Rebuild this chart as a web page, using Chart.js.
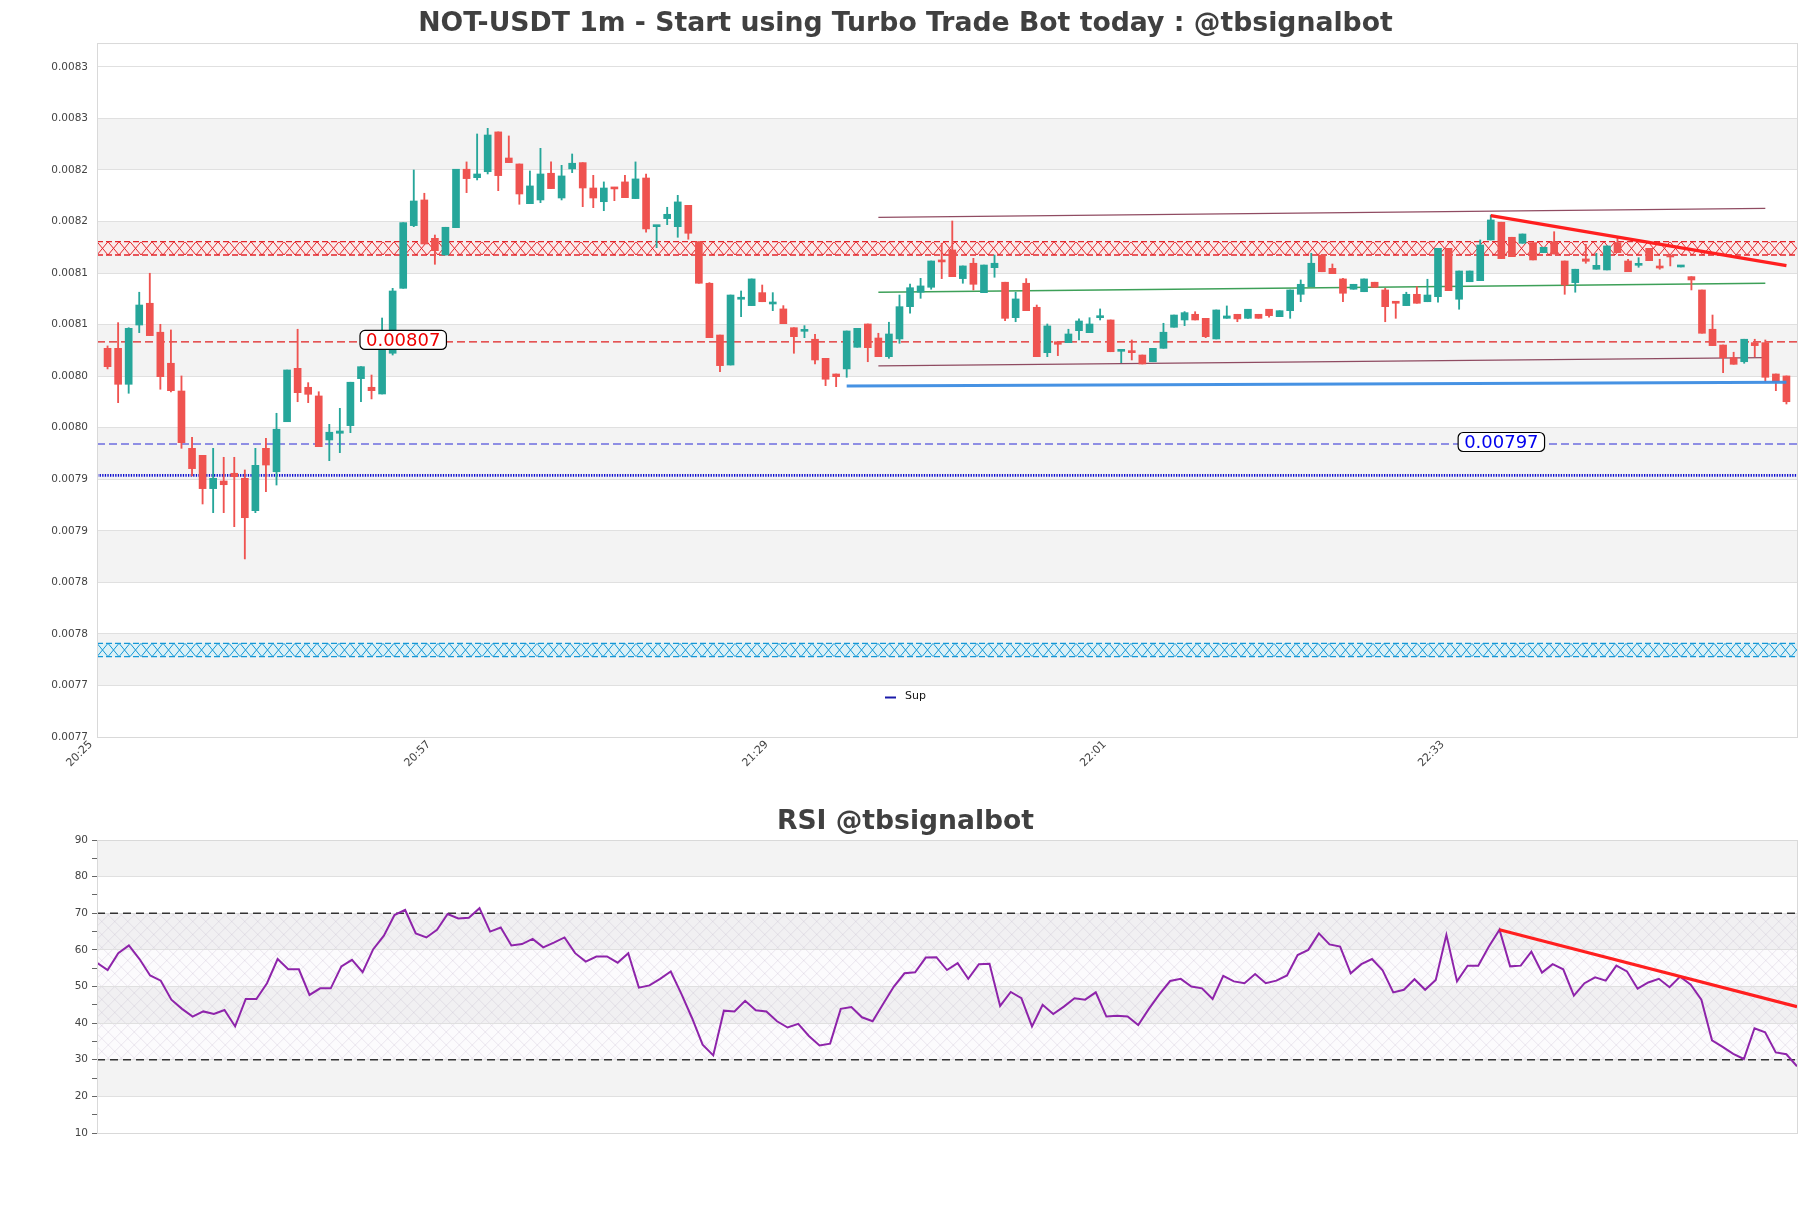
<!DOCTYPE html>
<html><head><meta charset="utf-8">
<script src="https://cdn.jsdelivr.net/npm/chart.js@4.4.1/dist/chart.umd.min.js"></script>
<style>
html,body{margin:0;padding:0;background:#fff;}
#wrap{position:relative;width:1811px;height:1208px;background:#fff;}
#c1{position:absolute;left:0;top:0;}
#c2{position:absolute;left:0;top:780px;}
</style></head><body>
<div id="wrap"><canvas id="c1" width="1811" height="780"></canvas><canvas id="c2" width="1811" height="428"></canvas></div>
<script>
const mainTitle = 'NOT-USDT 1m - Start using Turbo Trade Bot today : @tbsignalbot';
const rsiTitle = 'RSI @tbsignalbot';

const openPrices = [
0.0080645,0.0080645,0.0080296,0.0080871,0.0081082,0.0080801,0.0080500,0.0080231,0.0079675,0.0079607,
0.0079284,0.0079358,0.0079433,0.0079384,0.0079070,0.0079675,0.0079448,0.0079933,0.0080451,0.0080267,
0.0080183,0.0079756,0.0079821,0.0079895,0.0080351,0.0080267,0.0080202,0.0080597,0.0081227,0.0081835,
0.0082084,0.0081712,0.0081550,0.0081815,0.0082382,0.0082300,0.0082358,0.0082744,0.0082491,0.0082433,
0.0082048,0.0082084,0.0082343,0.0082103,0.0082385,0.0082446,0.0082200,0.0082067,0.0082207,0.0082259,
0.0082097,0.0082297,0.0081825,0.0081903,0.0081825,0.0082032,0.0081679,0.0081276,0.0080774,0.0080483,
0.0081121,0.0081059,0.0081185,0.0081075,0.0081027,0.0080845,0.0080810,0.0080733,0.0080548,0.0080396,
0.0080445,0.0080655,0.0080881,0.0080745,0.0080564,0.0080736,0.0081049,0.0081189,0.0081237,0.0081495,
0.0081599,0.0081321,0.0081470,0.0081185,0.0081427,0.0081286,0.0080942,0.0081276,0.0081043,0.0080603,
0.0080709,0.0080700,0.0080816,0.0080797,0.0080942,0.0080920,0.0080616,0.0080616,0.0080580,0.0080515,
0.0080645,0.0080849,0.0080920,0.0080975,0.0080936,0.0080736,0.0080936,0.0080975,0.0080936,0.0080975,
0.0081024,0.0080952,0.0081010,0.0081169,0.0081243,0.0081550,0.0081421,0.0081318,0.0081218,0.0081194,
0.0081286,0.0081211,0.0081097,0.0081059,0.0081169,0.0081097,0.0081146,0.0081615,0.0081121,0.0081291,
0.0081301,0.0081696,0.0081868,0.0081722,0.0081664,0.0081670,0.0081573,0.0081679,0.0081492,0.0081282,
0.0081512,0.0081412,0.0081405,0.0081670,0.0081492,0.0081450,0.0081615,0.0081431,0.0081538,0.0081434,
0.0081340,0.0081211,0.0080830,0.0080677,0.0080554,0.0080515,0.0080700,0.0080700,0.0080396,0.0080377];
const highPrices = [
0.0080668,0.0080894,0.0080845,0.0081189,0.0081373,0.0080878,0.0080823,0.0080377,0.0079782,0.0079607,
0.0079675,0.0079588,0.0079588,0.0079465,0.0079675,0.0079772,0.0080015,0.0080435,0.0080830,0.0080312,
0.0080224,0.0079908,0.0080063,0.0080316,0.0080467,0.0080386,0.0080939,0.0081227,0.0081864,0.0082375,
0.0082149,0.0081744,0.0081819,0.0082382,0.0082453,0.0082724,0.0082779,0.0082744,0.0082705,0.0082433,
0.0082365,0.0082585,0.0082453,0.0082420,0.0082530,0.0082446,0.0082323,0.0082259,0.0082207,0.0082323,
0.0082453,0.0082336,0.0081835,0.0082013,0.0082129,0.0082032,0.0081679,0.0081282,0.0080774,0.0081162,
0.0081201,0.0081318,0.0081259,0.0081185,0.0081059,0.0080845,0.0080865,0.0080781,0.0080548,0.0080396,
0.0080813,0.0080839,0.0080881,0.0080791,0.0080898,0.0081162,0.0081269,0.0081324,0.0081492,0.0081664,
0.0081880,0.0081444,0.0081518,0.0081453,0.0081550,0.0081286,0.0081189,0.0081321,0.0081065,0.0080881,
0.0080709,0.0080830,0.0080930,0.0080942,0.0081027,0.0080920,0.0080629,0.0080726,0.0080580,0.0080645,
0.0080888,0.0080968,0.0081001,0.0081000,0.0080936,0.0081017,0.0081056,0.0080975,0.0081024,0.0080975,
0.0081024,0.0081010,0.0081211,0.0081308,0.0081567,0.0081550,0.0081463,0.0081324,0.0081266,0.0081318,
0.0081286,0.0081227,0.0081097,0.0081189,0.0081243,0.0081315,0.0081615,0.0081615,0.0081395,0.0081395,
0.0081696,0.0081938,0.0081868,0.0081722,0.0081754,0.0081670,0.0081625,0.0081776,0.0081492,0.0081412,
0.0081654,0.0081567,0.0081638,0.0081728,0.0081509,0.0081524,0.0081615,0.0081509,0.0081538,0.0081441,
0.0081340,0.0081211,0.0080968,0.0080677,0.0080607,0.0080733,0.0080733,0.0080726,0.0080396,0.0080377];
const lowPrices = [
0.0080445,0.0080118,0.0080209,0.0080797,0.0080768,0.0080248,0.0080222,0.0079675,0.0079407,0.0079135,
0.0079051,0.0079051,0.0078915,0.0078602,0.0079051,0.0079254,0.0079319,0.0079933,0.0080127,0.0080118,
0.0079691,0.0079555,0.0079633,0.0079827,0.0080127,0.0080154,0.0080202,0.0080580,0.0081227,0.0081825,
0.0081657,0.0081460,0.0081550,0.0081815,0.0082155,0.0082278,0.0082336,0.0082174,0.0082446,0.0082042,
0.0082048,0.0082058,0.0082194,0.0082084,0.0082349,0.0082019,0.0082009,0.0081980,0.0082077,0.0082106,
0.0082097,0.0081771,0.0081621,0.0081844,0.0081722,0.0081703,0.0081276,0.0080748,0.0080418,0.0080483,
0.0080952,0.0081059,0.0081097,0.0081010,0.0080884,0.0080597,0.0080748,0.0080493,0.0080283,0.0080273,
0.0080364,0.0080655,0.0080515,0.0080564,0.0080548,0.0080694,0.0080985,0.0081130,0.0081218,0.0081321,
0.0081340,0.0081276,0.0081211,0.0081185,0.0081334,0.0080913,0.0080903,0.0081010,0.0080564,0.0080564,
0.0080574,0.0080700,0.0080726,0.0080797,0.0080920,0.0080612,0.0080506,0.0080532,0.0080493,0.0080515,
0.0080645,0.0080849,0.0080865,0.0080920,0.0080748,0.0080736,0.0080936,0.0080903,0.0080936,0.0080936,
0.0080946,0.0080952,0.0080936,0.0081097,0.0081243,0.0081388,0.0081369,0.0081097,0.0081218,0.0081194,
0.0081237,0.0080903,0.0080936,0.0081059,0.0081082,0.0081097,0.0081092,0.0081204,0.0081024,0.0081291,
0.0081301,0.0081696,0.0081515,0.0081534,0.0081664,0.0081502,0.0081573,0.0081560,0.0081169,0.0081189,
0.0081470,0.0081412,0.0081405,0.0081573,0.0081388,0.0081431,0.0081495,0.0081412,0.0081444,0.0081434,
0.0081211,0.0080791,0.0080671,0.0080409,0.0080490,0.0080500,0.0080564,0.0080321,0.0080234,0.0080105];
const closePrices = [
0.0080467,0.0080296,0.0080839,0.0081065,0.0080768,0.0080370,0.0080234,0.0079730,0.0079478,0.0079284,
0.0079384,0.0079322,0.0079400,0.0079002,0.0079510,0.0079513,0.0079860,0.0080435,0.0080215,0.0080199,
0.0079691,0.0079831,0.0079843,0.0080316,0.0080467,0.0080234,0.0080645,0.0081201,0.0081864,0.0082074,
0.0081657,0.0081592,0.0081819,0.0082382,0.0082291,0.0082336,0.0082714,0.0082320,0.0082446,0.0082142,
0.0082220,0.0082336,0.0082194,0.0082317,0.0082440,0.0082200,0.0082103,0.0082200,0.0082191,0.0082106,
0.0082288,0.0081803,0.0081835,0.0081945,0.0082065,0.0081761,0.0081276,0.0080748,0.0080477,0.0081162,
0.0081124,0.0081318,0.0081097,0.0081082,0.0080884,0.0080758,0.0080816,0.0080532,0.0080345,0.0080370,
0.0080813,0.0080839,0.0080651,0.0080564,0.0080784,0.0081049,0.0081233,0.0081250,0.0081492,0.0081483,
0.0081340,0.0081444,0.0081266,0.0081453,0.0081470,0.0080936,0.0081124,0.0081010,0.0080564,0.0080862,
0.0080684,0.0080784,0.0080910,0.0080881,0.0080946,0.0080612,0.0080619,0.0080603,0.0080493,0.0080645,
0.0080801,0.0080968,0.0080991,0.0080920,0.0080758,0.0081017,0.0080959,0.0080930,0.0081024,0.0080936,
0.0080962,0.0081010,0.0081211,0.0081266,0.0081470,0.0081388,0.0081369,0.0081179,0.0081266,0.0081318,
0.0081237,0.0081049,0.0081082,0.0081169,0.0081082,0.0081162,0.0081615,0.0081204,0.0081395,0.0081395,
0.0081647,0.0081890,0.0081515,0.0081534,0.0081754,0.0081502,0.0081625,0.0081560,0.0081259,0.0081412,
0.0081489,0.0081450,0.0081638,0.0081573,0.0081388,0.0081456,0.0081495,0.0081424,0.0081531,0.0081441,
0.0081308,0.0080791,0.0080671,0.0080554,0.0080490,0.0080733,0.0080671,0.0080364,0.0080321,0.0080127];

const timeTickPos = [-1, 31, 63, 95, 127];
const timeTickLabels = ['20:25', '20:57', '21:29', '22:01', '22:33'];
const xRange = [-1, 160];
const priceRange = [0.0076875, 0.0083606];
const priceTicks = [0.0076875,0.0077375,0.0077875,0.0078375,0.0078875,0.0079375,0.0079875,0.0080375,0.0080875,0.0081375,0.0081875,0.0082375,0.0082875,0.0083375];
const priceTickLabels = ['0.0077','0.0077','0.0078','0.0078','0.0079','0.0079','0.0080','0.0080','0.0081','0.0081','0.0082','0.0082','0.0083','0.0083'];

const resistanceZone = [0.0081550, 0.0081679];
const supportZone = [0.0077654, 0.0077784];
const levelValues = [0.0080707, 0.0079717];
const levelLabelText = ['0.00807', '0.00797'];
const levelLabelPos = [28, 132];
const supValue = 0.0079413;
const supLabel = 'Sup';
const channelUpper = [{x: 73, y: 0.0081916}, {x: 157, y: 0.0082003}];
const channelMid = [{x: 73, y: 0.0081189}, {x: 157, y: 0.0081276}];
const channelLower = [{x: 73, y: 0.0080474}, {x: 157, y: 0.0080554}];
const supportTrend = [{x: 70, y: 0.0080280}, {x: 159, y: 0.0080316}];
const resistTrend = [{x: 131, y: 0.0081932}, {x: 159, y: 0.0081447}];

const rsiValues = [
56.5,54.5,59.1,61.2,57.5,53,51.6,46.4,43.9,41.8,43.2,42.5,43.6,39.1,46.6,46.6,50.9,57.5,54.7,54.7,
47.7,49.5,49.5,55.5,57.3,53.9,60.2,63.9,69.5,70.9,64.5,63.4,65.5,69.8,68.6,68.8,71.4,65,66.1,61.2,
61.6,63,60.7,62,63.4,59.1,56.8,58.2,
58.2,56.5,59.1,49.7,50.3,52.1,54.1,48,41.4,34.1,31.2,43.4,43.2,46.1,43.5,43.2,40.5,38.8,39.8,36.5,
33.9,34.4,43.9,44.4,41.6,40.5,45.3,50,53.6,53.9,57.9,58,54.5,56.4,52.1,56.1,56.2,44.7,48.5,46.8,
39.1,45,42.5,44.5,46.8,46.4,48.4,41.8,42,41.8,39.5,43.9,47.9,51.5,52.1,50,
49.5,46.6,52.9,51.4,50.9,53.4,50.9,51.6,53,58.6,60,64.5,61.5,60.9,53.6,56.1,57.5,54.4,48.4,49.1,
52,49.1,51.8,64.1,51.4,55.7,55.7,60.9,65.5,55.5,55.7,59.5,53.8,56.1,54.7,47.5,50.9,52.5,51.6,55.7,
54.1,49.4,51.1,52.1,49.8,52.7,50.5,46.4,35.3,33.5,31.6,30.2,38.6,37.5,32,31.5,28.2];
const rsiTrend = [{x: 132, y: 65.5}, {x: 160, y: 44.5}];
const rsiLevels = [70, 30];
const rsiRange = [10, 90];
const rsiTickValues = [10,15,20,25,30,35,40,45,50,55,60,65,70,75,80,85,90];
const rsiTickLabels = ['10','','20','','30','','40','','50','','60','','70','','80','','90'];

const FONT = 'DejaVu Sans';
Chart.defaults.font.family = FONT;
const GREEN = '#26a69a', RED = '#ef5350', BAND = '#f3f3f3', GRID = '#e0e0e0';
const SIDE_PAD = 14;

const candleColors = openPrices.map((o, i) => closePrices[i] >= o ? GREEN : RED);
const wickData = openPrices.map((o, i) => ({x: i, y: [lowPrices[i], highPrices[i]]}));
const bodyData = openPrices.map((o, i) => ({x: i, y: [o, closePrices[i]]}));
const hline = v => [{x: xRange[0], y: v}, {x: xRange[1], y: v}];

function xHatch(ctx, left, right, top, bottom, w, color, lw) {
  ctx.save();
  ctx.beginPath(); ctx.rect(left, top, right - left, bottom - top); ctx.clip();
  ctx.strokeStyle = color; ctx.lineWidth = lw;
  ctx.beginPath();
  for (let x = left; x < right + w; x += w) {
    ctx.moveTo(x, top); ctx.lineTo(x + w, bottom);
    ctx.moveTo(x + w, top); ctx.lineTo(x, bottom);
  }
  ctx.stroke();
  ctx.restore();
}
function diagHatch(ctx, left, right, top, bottom, step, color, lw) {
  ctx.save();
  ctx.beginPath(); ctx.rect(left, top, right - left, bottom - top); ctx.clip();
  ctx.strokeStyle = color; ctx.lineWidth = lw;
  const h = bottom - top;
  ctx.beginPath();
  for (let x = left - h; x < right + h; x += step) {
    ctx.moveTo(x, bottom); ctx.lineTo(x + h, top);
    ctx.moveTo(x, top); ctx.lineTo(x + h, bottom);
  }
  ctx.stroke();
  ctx.restore();
}
function zone(ctx, a, y, range, fill, line) {
  const y0 = y.getPixelForValue(range[1]), y1 = y.getPixelForValue(range[0]);
  ctx.save();
  ctx.fillStyle = fill;
  ctx.fillRect(a.left, y0, a.right - a.left, y1 - y0);
  xHatch(ctx, a.left, a.right, y0, y1, 11, line, 1);
  ctx.strokeStyle = line; ctx.lineWidth = 1.3; ctx.setLineDash([6, 3]);
  ctx.beginPath();
  ctx.moveTo(a.left, y0); ctx.lineTo(a.right, y0);
  ctx.moveTo(a.left, y1); ctx.lineTo(a.right, y1);
  ctx.stroke();
  ctx.restore();
}

const mainDeco = {
  id: 'mainDeco',
  beforeDraw(chart) {
    const {ctx, chartArea: a, scales: {y}} = chart;
    ctx.save();
    ctx.fillStyle = '#fff';
    ctx.fillRect(0, 0, chart.width, chart.height);
    ctx.fillStyle = BAND;
    for (let i = 1; i < priceTicks.length - 1; i += 2) {
      const yt = y.getPixelForValue(priceTicks[i + 1]), yb = y.getPixelForValue(priceTicks[i]);
      ctx.fillRect(a.left, yt, a.right - a.left, yb - yt);
    }
    ctx.restore();
  },
  beforeDatasetsDraw(chart) {
    const {ctx, chartArea: a, scales: {y}} = chart;
    zone(ctx, a, y, resistanceZone, 'rgba(255,225,225,0.55)', '#e3262b');
    zone(ctx, a, y, supportZone, 'rgba(205,240,250,0.6)', '#1597d6');
  },
  afterDatasetsDraw(chart) {
    const {ctx, chartArea: a, scales: {x, y}} = chart;
    ctx.save();
    const colors = ['#ee0000', '#0000ee'];
    levelValues.forEach((v, k) => {
      const cx = x.getPixelForValue(levelLabelPos[k]);
      const cy = y.getPixelForValue(v);
      ctx.font = '18px ' + FONT;
      const tw = ctx.measureText(levelLabelText[k]).width;
      const w = tw + 12, h = 19;
      ctx.beginPath();
      ctx.roundRect(cx - w / 2, cy - h / 2 - 2, w, h, 5);
      ctx.fillStyle = '#fff'; ctx.fill();
      ctx.strokeStyle = '#000'; ctx.lineWidth = 1.2; ctx.stroke();
      ctx.fillStyle = colors[k]; ctx.textAlign = 'center'; ctx.textBaseline = 'middle';
      ctx.fillText(levelLabelText[k], cx, cy - 1);
    });
    const ds = chart.data.datasets.find(d => d.label === supLabel);
    const lx = a.left + 788, ly = a.bottom - 39.5;
    ctx.setLineDash([]);
    ctx.strokeStyle = '#1a1aa8'; ctx.lineWidth = 2;
    ctx.beginPath(); ctx.moveTo(lx, ly); ctx.lineTo(lx + 11, ly); ctx.stroke();
    ctx.fillStyle = '#111'; ctx.font = '11px ' + FONT; ctx.textAlign = 'left'; ctx.textBaseline = 'middle';
    ctx.fillText(ds.label, lx + 20, ly - 1);
    ctx.restore();
  },
  afterDraw(chart) {
    const {ctx, chartArea: a} = chart;
    ctx.save();
    ctx.strokeStyle = '#d9d9d9'; ctx.lineWidth = 1;
    ctx.strokeRect(a.left + 0.5, a.top + 0.5, a.right - a.left, a.bottom - a.top);
    ctx.restore();
  }
};

new Chart(document.getElementById('c1'), {
  type: 'bar',
  data: {
    datasets: [
      {type: 'line', data: hline(levelValues[0]), borderColor: '#e02020', borderWidth: 1.2, borderDash: [8, 4], pointRadius: 0, order: 10},
      {type: 'line', data: hline(levelValues[1]), borderColor: '#2b2bd6', borderWidth: 1.2, borderDash: [8, 4], pointRadius: 0, order: 10},
      {type: 'line', label: supLabel, data: hline(supValue), borderColor: '#0a0ad0', borderWidth: 2.6, borderDash: [1.3, 1.3], pointRadius: 0, order: 10},
      {type: 'line', data: channelUpper, borderColor: 'rgba(125,45,70,0.85)', borderWidth: 1.3, pointRadius: 0, order: 9},
      {type: 'line', data: channelLower, borderColor: 'rgba(125,45,70,0.85)', borderWidth: 1.3, pointRadius: 0, order: 9},
      {type: 'line', data: channelMid, borderColor: 'rgba(40,150,70,0.9)', borderWidth: 1.3, pointRadius: 0, order: 9},
      {type: 'bar', data: wickData, backgroundColor: candleColors, borderWidth: 0, barThickness: 1.2, grouped: false, order: 4},
      {type: 'bar', data: bodyData, backgroundColor: candleColors, borderWidth: 0, barThickness: 7, minBarLength: 2, grouped: false, order: 3},
      {type: 'line', data: supportTrend, borderColor: 'rgba(60,140,225,0.95)', borderWidth: 3, pointRadius: 0, order: 1},
      {type: 'line', data: resistTrend, borderColor: '#ff1f1f', borderWidth: 3.2, pointRadius: 0, order: 1}
    ]
  },
  options: {
    responsive: false, animation: false, events: [],
    layout: {padding: {left: SIDE_PAD, right: SIDE_PAD, top: 0, bottom: 0}},
    plugins: {
      legend: {display: false}, tooltip: {enabled: false},
      title: {display: true, text: mainTitle, color: '#404040', font: {family: FONT, size: 26.7, weight: 'bold'}, padding: {top: 8.5, bottom: 2.5}}
    },
    scales: {
      x: {
        type: 'linear', min: xRange[0], max: xRange[1], offset: false,
        grid: {display: false, drawTicks: false}, border: {display: false},
        afterBuildTicks: s => { s.ticks = timeTickPos.map(v => ({value: v})); },
        afterFit: s => { s.height = 43; },
        ticks: {autoSkip: false, minRotation: 45, maxRotation: 45, padding: 1, labelOffset: -6, color: '#444', font: {family: FONT, size: 11},
          callback: v => { const k = timeTickPos.indexOf(v); return k >= 0 ? timeTickLabels[k] : ''; }}
      },
      y: {
        type: 'linear', min: priceRange[0], max: priceRange[1], position: 'left',
        grid: {color: GRID, drawTicks: false}, border: {display: false},
        afterBuildTicks: s => { s.ticks = priceTicks.map(v => ({value: v})); },
        afterFit: s => { s.width = 97 - SIDE_PAD; },
        ticks: {padding: 9, color: '#444', font: {family: FONT, size: 10.5}, callback: (v, i) => priceTickLabels[i]}
      }
    }
  },
  plugins: [mainDeco]
});

const rsiDeco = {
  id: 'rsiDeco',
  beforeDraw(chart) {
    const {ctx, chartArea: a, scales: {y}} = chart;
    ctx.save();
    ctx.fillStyle = '#fff';
    ctx.fillRect(0, 0, chart.width, chart.height);
    ctx.fillStyle = BAND;
    for (let v = 20; v < 90; v += 20) {
      const yt = y.getPixelForValue(v + 10), yb = y.getPixelForValue(v);
      ctx.fillRect(a.left, yt, a.right - a.left, yb - yt);
    }
    const t = y.getPixelForValue(rsiLevels[0]), b = y.getPixelForValue(rsiLevels[1]);
    ctx.fillStyle = 'rgba(215,200,225,0.08)';
    ctx.fillRect(a.left, t, a.right - a.left, b - t);
    diagHatch(ctx, a.left, a.right, t, b, 13, 'rgba(185,170,195,0.32)', 0.8);
    ctx.restore();
  },
  afterDraw(chart) {
    const {ctx, chartArea: a} = chart;
    ctx.save();
    ctx.strokeStyle = '#d9d9d9'; ctx.lineWidth = 1;
    ctx.strokeRect(a.left + 0.5, a.top + 0.5, a.right - a.left, a.bottom - a.top);
    ctx.restore();
  }
};

new Chart(document.getElementById('c2'), {
  type: 'line',
  data: {
    datasets: [
      {data: rsiValues.map((v, i) => ({x: i, y: v})), borderColor: 'rgb(142,36,170)', borderWidth: 2, pointRadius: 0, tension: 0, order: 2},
      {data: rsiTrend, borderColor: '#ff1f1f', borderWidth: 3.2, pointRadius: 0, order: 1},
      {data: [{x: 0, y: rsiLevels[0]}, {x: rsiValues.length - 1, y: rsiLevels[0]}], borderColor: '#333', borderWidth: 1.3, borderDash: [8, 5], pointRadius: 0, order: 3},
      {data: [{x: 0, y: rsiLevels[1]}, {x: rsiValues.length - 1, y: rsiLevels[1]}], borderColor: '#333', borderWidth: 1.3, borderDash: [8, 5], pointRadius: 0, order: 3}
    ]
  },
  options: {
    responsive: false, animation: false, events: [],
    layout: {padding: {left: SIDE_PAD, right: SIDE_PAD, top: 0, bottom: 75}},
    plugins: {
      legend: {display: false}, tooltip: {enabled: false},
      title: {display: true, text: rsiTitle, color: '#404040', font: {family: FONT, size: 26.6, weight: 'bold'}, padding: {top: 26.5, bottom: 1.6}}
    },
    scales: {
      x: {type: 'linear', display: false, min: 0, max: rsiValues.length - 1},
      y: {
        type: 'linear', min: rsiRange[0], max: rsiRange[1],
        afterBuildTicks: s => { s.ticks = rsiTickValues.map(v => ({value: v})); },
        afterFit: s => { s.width = 97 - SIDE_PAD; },
        grid: {color: c => (c.tick && c.tick.value % 10 === 0) ? GRID : 'rgba(0,0,0,0)', tickColor: '#666', tickLength: 5, drawTicks: true},
        border: {display: false},
        ticks: {padding: 4, color: '#444', font: {family: FONT, size: 10.5}, callback: (v, i) => rsiTickLabels[i]}
      }
    }
  },
  plugins: [rsiDeco]
});
</script>
</body></html>
